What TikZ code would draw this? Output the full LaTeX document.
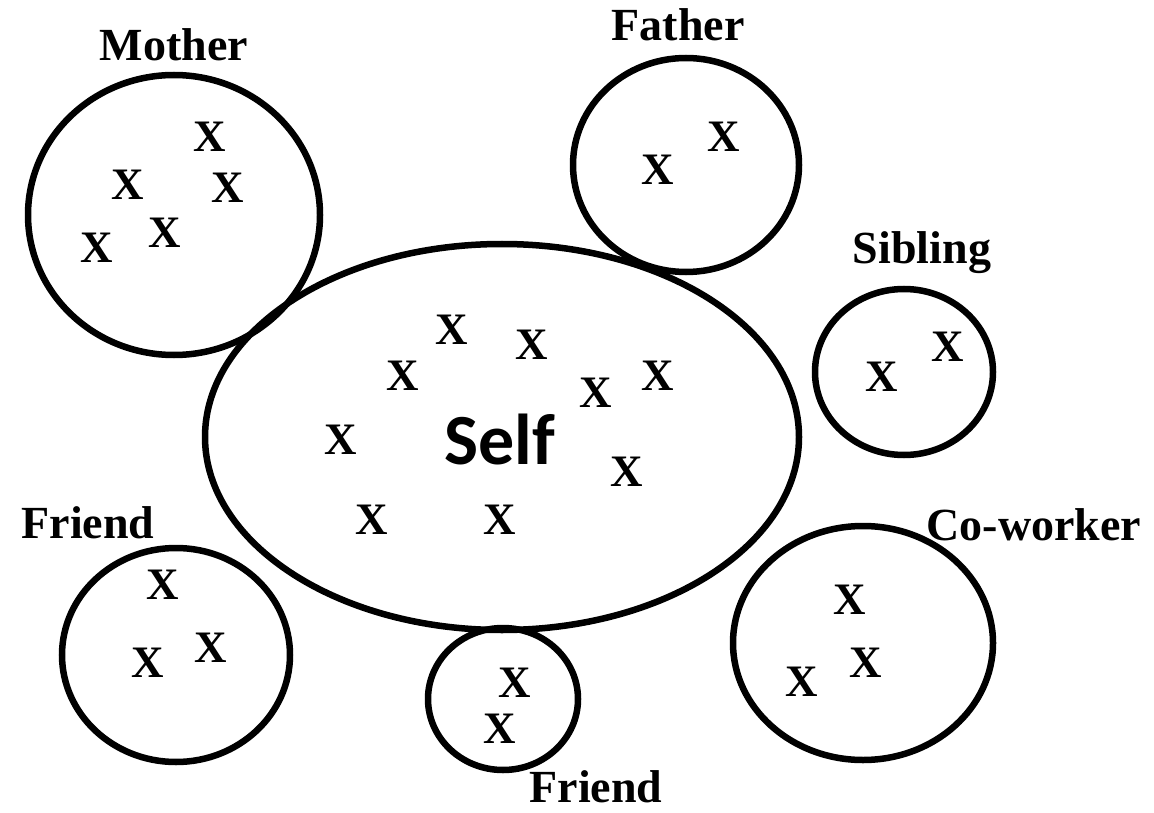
\documentclass[tikz,border=0pt]{standalone}
\usepackage{fontspec}
\setmainfont{Liberation Serif}
\newfontfamily\selffont{Carlito}
\usetikzlibrary{shapes.geometric}
\begin{document}
\begin{tikzpicture}[x=1pt,y=-1pt,
  ell/.style={ellipse,draw,line width=6.5pt,inner sep=0pt,outer sep=0pt},
  xmark/.style={font=\fontsize{45}{48}\selectfont\bfseries,inner sep=0pt},
  lbl/.style={font=\fontsize{46}{50}\selectfont\bfseries,inner sep=0pt}]
\useasboundingbox (0,0) rectangle (1154,813);
% ellipses
\node[ell,minimum width=292pt,minimum height=280pt] (mother) at (174,215) {};
\node[ell,minimum width=226pt,minimum height=214pt] (father) at (686,165) {};
\node[ell,minimum width=178pt,minimum height=166pt] (sibling) at (904,372) {};
\node[ell,minimum width=594pt,minimum height=386pt] (self) at (502,437) {};
\node[ell,minimum width=228pt,minimum height=214pt] (friendA) at (176,655) {};
\node[ell,minimum width=150pt,minimum height=142pt] (friendB) at (503,699) {};
\node[ell,minimum width=260pt,minimum height=234pt] (cowork) at (863,643) {};
% labels
\node[lbl] (lmother) at (174,45) {Mother};
\node[lbl] (lfather) at (678,25) {Father};
\node[lbl] (lsibling) at (922,253) {Sibling};
\node[lbl] (lfriendA) at (88,523) {Friend};
\node[lbl] (lcowork) at (1034,525) {Co-worker};
\node[lbl] (lfriendB) at (596,787) {Friend};
\node[font=\selffont\fontsize{72}{76}\selectfont\bfseries,inner sep=0pt] (lself) at (500,440) {Self};
% X marks
\foreach \p [count=\i] in {(210,137),(128,185),(228,188),(165,233),(97,248),
  (724,137),(658,170),
  (948,347),(882,377),
  (452,330),(532,345),(403,376),(596,393),(658,376),(341,440),(627,472),(372,520),(500,520),
  (163,585),(211,648),(148,663),
  (515,683),(500,729),
  (850,600),(866,663),(802,682)}
  \node[xmark] (x\i) at \p {X};
\end{tikzpicture}
\end{document}
